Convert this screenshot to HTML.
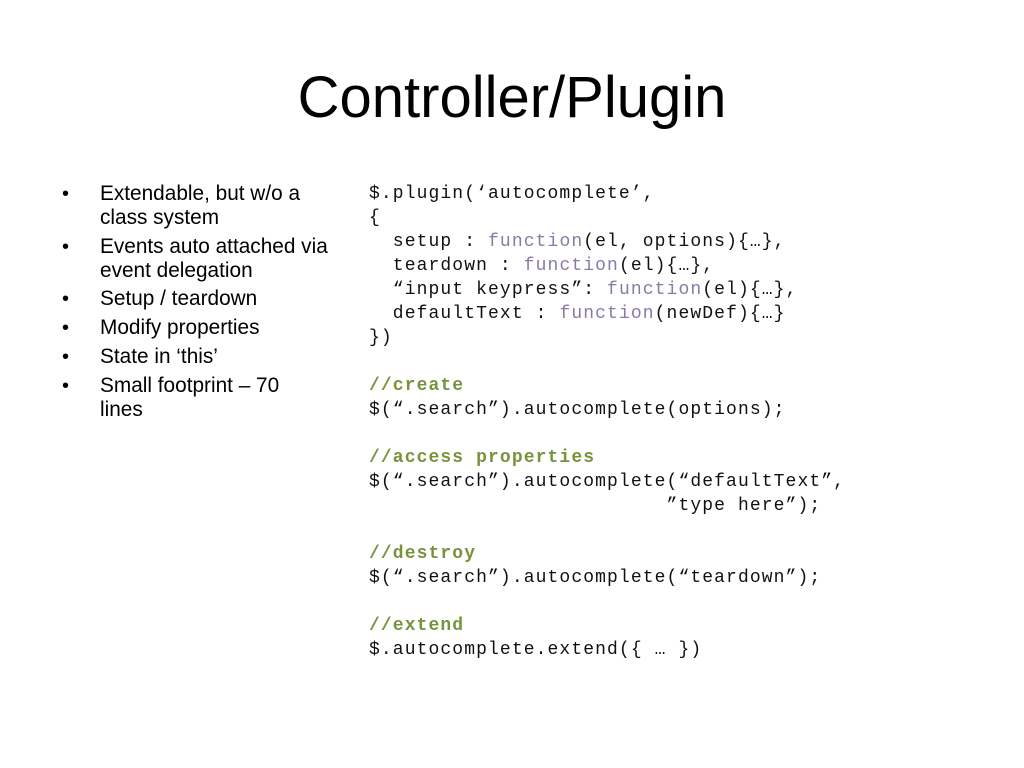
<!DOCTYPE html>
<html><head><meta charset="utf-8"><style>
body{margin:0;width:1024px;height:768px;background:#fff;position:relative;overflow:hidden;font-family:"Liberation Sans",sans-serif;color:#000}
.t{position:absolute;left:0;width:1024px;text-align:center;top:62px;font-size:58px;line-height:72px}
.b{position:absolute;left:100px;font-size:20.8px;line-height:24px;white-space:nowrap}
.d{position:absolute;left:62px;font-size:20px;line-height:24px}
.c{position:absolute;left:369px;font-family:"Liberation Mono",monospace;font-size:18px;letter-spacing:1.1px;line-height:24px;white-space:pre;color:#111}
.f{color:#8a7aa6}
.g{color:#77933c;font-weight:bold}
</style></head><body>
<div class="t">Controller/Plugin</div>
<div class="d" style="top:182px">•</div><div class="b" style="top:182px">Extendable, but w/o a</div>
<div class="b" style="top:206px">class system</div>
<div class="d" style="top:235px">•</div><div class="b" style="top:235px">Events auto attached via</div>
<div class="b" style="top:259px">event delegation</div>
<div class="d" style="top:287px">•</div><div class="b" style="top:287px">Setup / teardown</div>
<div class="d" style="top:316px">•</div><div class="b" style="top:316px">Modify properties</div>
<div class="d" style="top:345px">•</div><div class="b" style="top:345px">State in ‘this’</div>
<div class="d" style="top:374px">•</div><div class="b" style="top:374px">Small footprint – 70</div>
<div class="b" style="top:398px">lines</div>
<div class="c" style="top:182px">$.plugin(‘autocomplete’,
{
  setup : <span class="f">function</span>(el, options){…},
  teardown : <span class="f">function</span>(el){…},
  “input keypress”: <span class="f">function</span>(el){…},
  defaultText : <span class="f">function</span>(newDef){…}
})

<span class="g">//create</span>
$(“.search”).autocomplete(options);

<span class="g">//access properties</span>
$(“.search”).autocomplete(“defaultText”,
                         ”type here”);

<span class="g">//destroy</span>
$(“.search”).autocomplete(“teardown”);

<span class="g">//extend</span>
$.autocomplete.extend({ … })</div>
</body></html>
